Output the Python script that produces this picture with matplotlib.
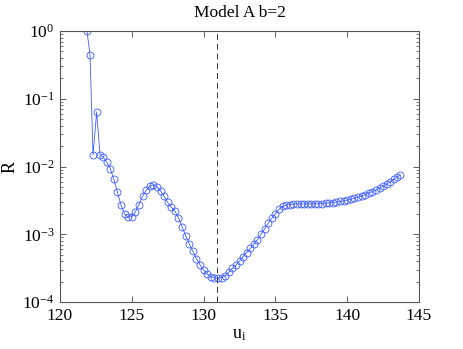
import matplotlib
matplotlib.use('Agg')
import matplotlib.pyplot as plt
from matplotlib.ticker import LogLocator, FixedLocator

u = [121.88, 122.09, 122.3, 122.55, 122.79,
     123.0, 123.25, 123.5, 123.75, 124.0, 124.25, 124.5, 124.75,
     125.0, 125.25, 125.5, 125.75, 126.0, 126.25, 126.5, 126.75,
     127.0, 127.25, 127.5, 127.75, 128.0, 128.25, 128.5, 128.75,
     129.0, 129.25, 129.5, 129.75, 130.0, 130.25, 130.5, 130.75,
     131.0, 131.25, 131.5, 131.75, 132.0, 132.25, 132.5, 132.75,
     133.0, 133.25, 133.5, 133.75, 134.0, 134.25, 134.5, 134.75,
     135.0, 135.25, 135.5, 135.75, 136.0, 136.25, 136.5, 136.75,
     137.0, 137.25, 137.5, 137.75, 138.0, 138.25, 138.5, 138.75,
     139.0, 139.25, 139.5, 139.75, 140.0, 140.25, 140.5, 140.75,
     141.0, 141.25, 141.5, 141.75, 142.0, 142.25, 142.5, 142.75,
     143.0, 143.25, 143.5, 143.7]

R = [1.0, 0.443, 0.0148, 0.0637, 0.0148,
     0.0138, 0.0117, 0.00933, 0.00646, 0.00417, 0.00269, 0.00200, 0.00178,
     0.00182, 0.00214, 0.00275, 0.00363, 0.00447, 0.00513, 0.00537, 0.00501,
     0.00437, 0.00363, 0.00295, 0.00251, 0.00219, 0.00174, 0.00129, 0.000955,
     0.000724, 0.000562, 0.000437, 0.000355, 0.000295, 0.000257, 0.000237, 0.000226,
     0.000224, 0.000229, 0.000245, 0.000275, 0.000313, 0.000351, 0.000403, 0.000468,
     0.000537, 0.000617, 0.000716, 0.000832, 0.00100, 0.00120, 0.00146, 0.00172,
     0.00202, 0.00234, 0.00257, 0.00269, 0.00275, 0.00279, 0.00280, 0.00280,
     0.00280, 0.00280, 0.00281, 0.00281, 0.00282, 0.00284, 0.00287, 0.00290,
     0.00294, 0.00299, 0.00305, 0.00312, 0.00320, 0.00330, 0.00340, 0.00353,
     0.00367, 0.00385, 0.00406, 0.00427, 0.00450, 0.00479, 0.00513, 0.00552,
     0.00596, 0.00646, 0.00700, 0.00750]

u_min = 130.9
x_ticks = [120, 125, 130, 135, 140, 145]

plt.rcParams['font.family'] = ['Liberation Serif', 'DejaVu Serif']
plt.rcParams['mathtext.fontset'] = 'stix'

fig = plt.figure(figsize=(4.63, 3.49), dpi=100)
ax = fig.add_axes([0.1296, 0.1347, 0.7754, 0.7763])

ax.semilogy(u, R, '-o', color='#3b5bff', linewidth=0.6,
            markerfacecolor='none', markeredgewidth=0.6, markersize=5)
ax.axvline(u_min, color='#333333', linestyle=(0, (6, 4)), linewidth=0.7)

ax.set_xlim(120, 145)
ax.set_ylim(1e-4, 1)
ax.xaxis.set_major_locator(FixedLocator(x_ticks))
ax.yaxis.set_major_locator(LogLocator(base=10, numticks=10))
ax.yaxis.set_minor_locator(LogLocator(base=10, subs=range(2, 10), numticks=10))

ax.tick_params(which='both', direction='in', top=True, right=True,
               labelsize=12.5, color='#444444')
ax.tick_params(which='major', length=4, width=0.6, pad=4)
ax.tick_params(which='minor', length=2, width=0.5)
for s in ax.spines.values():
    s.set_color('#555555')
    s.set_linewidth(0.8)

ax.set_title('Model A b=2', fontsize=12.5, pad=10)
ax.set_xlabel(r'u$_\mathregular{i}$', fontsize=13, labelpad=2)
ax.set_ylabel('R', fontsize=13, labelpad=3)

fig.savefig('out.png', dpi=100)
